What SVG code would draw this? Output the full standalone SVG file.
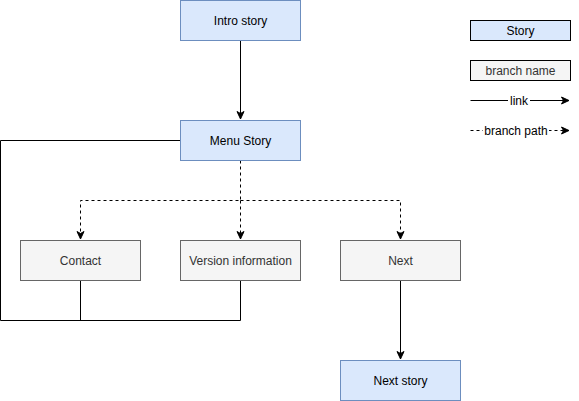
<svg xmlns="http://www.w3.org/2000/svg" width="579" height="401" viewBox="0 0 579 401">
<style>
.story{fill:#dae8fc;stroke:#6c8ebf;stroke-width:1}
.branch{fill:#f5f5f5;stroke:#666666;stroke-width:1}
.lg{stroke:#000000}
.t{font-family:"Liberation Sans",Arial,Helvetica,sans-serif;font-size:12px;text-anchor:middle;dominant-baseline:central}
.tb{fill:#333333}
.ts{fill:#000000}
.el{font-family:"Liberation Sans",Arial,Helvetica,sans-serif;font-size:12px;text-anchor:middle;dominant-baseline:central;fill:#000000}
.c{fill:none;stroke:#000000;stroke-width:1}
.d{stroke-dasharray:3 3}
</style>
<defs>
<marker id="arr" markerUnits="userSpaceOnUse" markerWidth="10" markerHeight="10" viewBox="0 0 10 10" refX="8" refY="5" orient="auto">
<path d="M8,5 L0.5,1.5 L2.5,5 L0.5,8.5 Z" fill="#000000" stroke="#000000" stroke-width="1"/>
</marker>
</defs>
<rect width="579" height="401" fill="#ffffff"/>
<g id="connectors">
<path class="c" d="M240.5,40.5 V119" marker-end="url(#arr)"/>
<path class="c d" d="M240.5,160.5 V200.5 H80.5 V239" marker-end="url(#arr)"/>
<path class="c d" d="M240.5,200.5 V239" marker-end="url(#arr)"/>
<path class="c d" d="M240.5,200.5 H400.5 V239" marker-end="url(#arr)"/>
<path class="c" d="M400.5,280.5 V359" marker-end="url(#arr)"/>
<path class="c" d="M180.5,140.5 H0.5 V320.5 H240.5 V280.5"/>
<path class="c" d="M80.5,280.5 V320.5"/>
</g>
<g id="intro-story"><rect class="story" x="180.5" y="0.5" width="120" height="40"/><text class="t ts" x="240.5" y="20.5">Intro story</text></g>
<g id="menu-story"><rect class="story" x="180.5" y="120.5" width="120" height="40"/><text class="t ts" x="240.5" y="140.5">Menu Story</text></g>
<g id="contact"><rect class="branch" x="20.5" y="240.5" width="120" height="40"/><text class="t tb" x="80.5" y="260.5">Contact</text></g>
<g id="version-information"><rect class="branch" x="180.5" y="240.5" width="120" height="40"/><text class="t tb" x="240.5" y="260.5">Version information</text></g>
<g id="next"><rect class="branch" x="340.5" y="240.5" width="120" height="40"/><text class="t tb" x="400.5" y="260.5">Next</text></g>
<g id="next-story"><rect class="story" x="340.5" y="360.5" width="120" height="40"/><text class="t ts" x="400.5" y="380.5">Next story</text></g>
<g id="legend">
<g id="legend-story"><rect class="story lg" x="470.5" y="20.5" width="100" height="20"/><text class="t ts" x="520.5" y="30.5">Story</text></g>
<g id="legend-branch"><rect class="branch lg" x="470.5" y="60.5" width="100" height="20"/><text class="t tb" x="520.5" y="70.5">branch name</text></g>
<g id="legend-link"><path class="c" d="M470.5,100.5 H569" marker-end="url(#arr)"/><rect x="508" y="93" width="22" height="15" fill="#ffffff"/><text class="el" x="519" y="100.5">link</text></g>
<g id="legend-branch-path"><path class="c d" d="M470.5,130.5 H569" marker-end="url(#arr)"/><rect x="483" y="123" width="66" height="15" fill="#ffffff"/><text class="el" x="516" y="130.5">branch path</text></g>
</g>
</svg>
